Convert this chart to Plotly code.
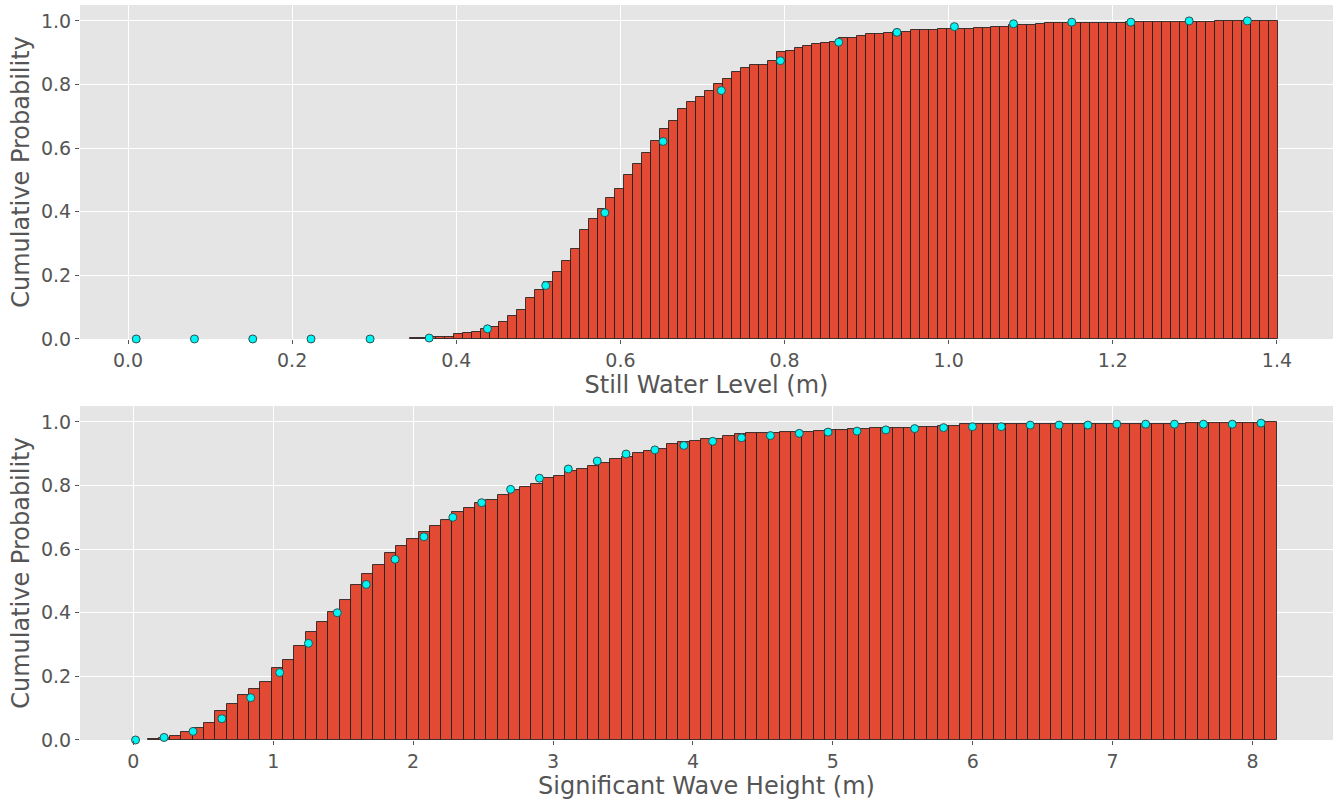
import numpy as np
import plotly.graph_objects as go

# ---------------- data: Still Water Level (cumulative histogram) ----------------
swl_bin_start = 0.343
swl_bin_width = 0.01091
swl_cum = [
    0.002, 0.004, 0.005, 0.007, 0.007, 0.015, 0.019, 0.022, 0.032, 0.039,
    0.053, 0.071, 0.092, 0.128, 0.153, 0.180, 0.210, 0.245, 0.284, 0.344,
    0.376, 0.408, 0.443, 0.472, 0.515, 0.550, 0.585, 0.621, 0.659, 0.684,
    0.724, 0.744, 0.762, 0.781, 0.801, 0.816, 0.838, 0.851, 0.862, 0.862,
    0.875, 0.901, 0.905, 0.914, 0.921, 0.927, 0.930, 0.933, 0.945, 0.945,
    0.954, 0.960, 0.960, 0.961, 0.964, 0.966, 0.971, 0.971, 0.971, 0.974,
    0.975, 0.975, 0.975, 0.977, 0.977, 0.981, 0.982, 0.986, 0.986, 0.986,
    0.990, 0.993, 0.993, 0.993, 0.993, 0.993, 0.993, 0.993, 0.993, 0.993,
    0.996, 0.996, 0.996, 0.996, 0.996, 0.996, 0.996, 0.996, 0.996, 0.996,
    1.000, 1.000, 1.000, 1.000, 1.000, 1.000, 1.000,
]
swl_pts_x = [0.010, 0.081, 0.152, 0.223, 0.295, 0.367, 0.438, 0.509, 0.581, 0.652,
             0.723, 0.795, 0.866, 0.937, 1.007, 1.079, 1.150, 1.222, 1.293, 1.364]
swl_pts_y = [0.000, 0.000, 0.000, 0.000, 0.000, 0.003, 0.032, 0.168, 0.397, 0.621,
             0.781, 0.875, 0.933, 0.964, 0.982, 0.991, 0.996, 0.996, 1.000, 1.000]

# ---------------- data: Significant Wave Height (cumulative histogram) ----------------
hs_bin_start = 0.102
hs_bin_width = 0.0807
hs_cum = [
    0.003, 0.007, 0.014, 0.024, 0.039, 0.053, 0.092, 0.113, 0.141, 0.159,
    0.183, 0.227, 0.251, 0.297, 0.340, 0.371, 0.403, 0.441, 0.488, 0.522,
    0.551, 0.589, 0.610, 0.632, 0.653, 0.674, 0.693, 0.716, 0.728, 0.746,
    0.756, 0.771, 0.787, 0.795, 0.806, 0.823, 0.830, 0.845, 0.852, 0.862,
    0.870, 0.883, 0.890, 0.901, 0.907, 0.914, 0.930, 0.936, 0.940, 0.945,
    0.946, 0.957, 0.961, 0.964, 0.964, 0.964, 0.968, 0.968, 0.969, 0.971,
    0.974, 0.974, 0.977, 0.978, 0.981, 0.981, 0.981, 0.982, 0.984, 0.984,
    0.988, 0.988, 0.992, 0.992, 0.992, 0.992, 0.993, 0.993, 0.993, 0.993,
    0.993, 0.993, 0.993, 0.993, 0.993, 0.994, 0.994, 0.994, 0.994, 0.994,
    0.994, 0.994, 0.995, 0.996, 0.996, 0.996, 0.997, 0.997, 0.998, 1.000,
]
hs_pts_x = [0.016, 0.220, 0.427, 0.633, 0.839, 1.046, 1.252, 1.458, 1.665, 1.871,
            2.077, 2.284, 2.490, 2.697, 2.903, 3.109, 3.316, 3.522, 3.728, 3.935,
            4.141, 4.347, 4.554, 4.760, 4.966, 5.173, 5.379, 5.585, 5.792, 5.998,
            6.204, 6.411, 6.617, 6.823, 7.030, 7.236, 7.442, 7.649, 7.855, 8.061]
hs_pts_y = [0.000, 0.008, 0.027, 0.067, 0.133, 0.212, 0.304, 0.400, 0.489, 0.568,
            0.639, 0.700, 0.746, 0.788, 0.823, 0.852, 0.877, 0.899, 0.912, 0.926,
            0.939, 0.950, 0.957, 0.964, 0.968, 0.971, 0.975, 0.979, 0.982, 0.985,
            0.985, 0.990, 0.990, 0.990, 0.993, 0.993, 0.993, 0.993, 0.993, 0.996]

swl_edges = swl_bin_start + swl_bin_width * np.arange(len(swl_cum))
hs_edges = hs_bin_start + hs_bin_width * np.arange(len(hs_cum))

BAR_COLOR = "#E24A33"
EDGE = "rgba(30,30,30,0.85)"
DOT = "#00F5F5"
TXT = "#555555"

fig = go.Figure()
fig.add_trace(go.Bar(x=swl_edges, y=swl_cum, width=swl_bin_width, offset=0,
                     marker=dict(color=BAR_COLOR, line=dict(color=EDGE, width=1)),
                     xaxis="x", yaxis="y", showlegend=False))
fig.add_trace(go.Scatter(x=swl_pts_x, y=swl_pts_y, mode="markers",
                         marker=dict(color=DOT, size=8, line=dict(color="#2f4f4f", width=1)),
                         xaxis="x", yaxis="y", showlegend=False, cliponaxis=False))
fig.add_trace(go.Bar(x=hs_edges, y=hs_cum, width=hs_bin_width, offset=0,
                     marker=dict(color=BAR_COLOR, line=dict(color=EDGE, width=1)),
                     xaxis="x2", yaxis="y2", showlegend=False))
fig.add_trace(go.Scatter(x=hs_pts_x, y=hs_pts_y, mode="markers",
                         marker=dict(color=DOT, size=8, line=dict(color="#2f4f4f", width=1)),
                         xaxis="x2", yaxis="y2", showlegend=False, cliponaxis=False))

axis_common = dict(
    showgrid=True, gridcolor="white", gridwidth=1, zeroline=False,
    ticks="outside", ticklen=4, tickcolor=TXT, tickwidth=1,
    tickfont=dict(family="DejaVu Sans", size=19, color=TXT),
    showline=False, automargin=False,
)
title_font = dict(family="DejaVu Sans", size=24, color=TXT)

fig.update_layout(
    width=1340, height=800,
    margin=dict(l=80, r=7, t=5, b=60),
    paper_bgcolor="white", plot_bgcolor="#E5E5E5",
    bargap=0,
    font=dict(family="DejaVu Sans", color=TXT),
    xaxis=dict(domain=[0, 1], anchor="y", range=[-0.0585, 1.4683],
               tickvals=[0.0, 0.2, 0.4, 0.6, 0.8, 1.0, 1.2, 1.4],
               ticktext=["0.0", "0.2", "0.4", "0.6", "0.8", "1.0", "1.2", "1.4"],
               title=dict(text="Still Water Level (m)", font=title_font, standoff=4),
               **axis_common),
    yaxis=dict(domain=[0.5456, 1.0], anchor="x", range=[0, 1.05],
               tickvals=[0.0, 0.2, 0.4, 0.6, 0.8, 1.0],
               ticktext=["0.0", "0.2", "0.4", "0.6", "0.8", "1.0"],
               title=dict(text="Cumulative Probability", font=title_font, standoff=4),
               **axis_common),
    xaxis2=dict(domain=[0, 1], anchor="y2", range=[-0.381, 8.575],
                tickvals=[0, 1, 2, 3, 4, 5, 6, 7, 8],
                title=dict(text="Significant Wave Height (m)", font=title_font, standoff=2),
                **axis_common),
    yaxis2=dict(domain=[0.0, 0.4544], anchor="x2", range=[0, 1.05],
                tickvals=[0.0, 0.2, 0.4, 0.6, 0.8, 1.0],
                ticktext=["0.0", "0.2", "0.4", "0.6", "0.8", "1.0"],
                title=dict(text="Cumulative Probability", font=title_font, standoff=4),
                **axis_common),
)

fig.write_html(
    "out.html",
    config={"displayModeBar": False},
    post_script="document.body.style.margin='0';document.body.style.overflow='hidden';",
)
